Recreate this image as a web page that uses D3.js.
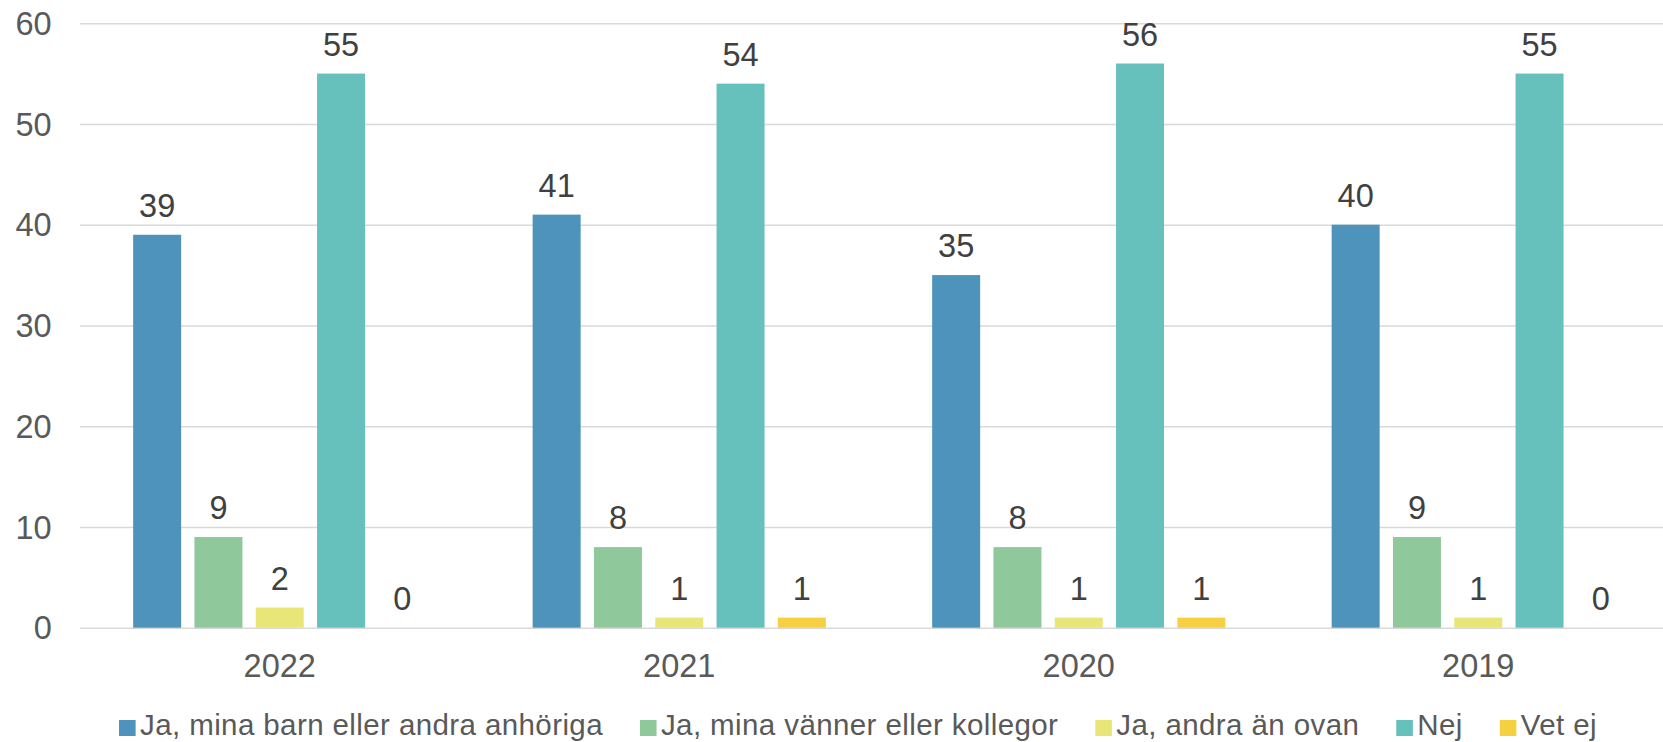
<!DOCTYPE html>
<html>
<head>
<meta charset="utf-8">
<script src="https://cdn.jsdelivr.net/npm/d3@7"></script>
<style>
  body { margin: 0; background: #fff; }
  svg { display: block; font-family: "Liberation Sans", Arial, sans-serif; }
</style>
</head>
<body>
<div id="chart"></div>
<script>
// data
const years = ["2022", "2021", "2020", "2019"];
const seriesNames = [
  "Ja, mina barn eller andra anhöriga",
  "Ja, mina vänner eller kollegor",
  "Ja, andra än ovan",
  "Nej",
  "Vet ej"
];
const barnAnhoriga = [39, 41, 35, 40];
const vannerKollegor = [9, 8, 8, 9];
const andraAnOvan = [2, 1, 1, 1];
const nej = [55, 54, 56, 55];
const vetEj = [0, 1, 1, 0];
const yTicks = [0, 10, 20, 30, 40, 50, 60];

const colors = ["#4e93bc", "#8fc99b", "#e8e676", "#66c1bd", "#f5d142"];

const allSeries = [barnAnhoriga, vannerKollegor, andraAnOvan, nej, vetEj];
const rows = years.map((yr, i) => ({
  year: yr,
  values: seriesNames.map((s, j) => ({ key: s, idx: j, value: allSeries[j][i] }))
}));

const W = 1663, H = 742;
const margin = { top: 23.2, left: 80 };
const plotW = 1598;          // runs a little past the right edge, like the original crop
const plotH = 627.7 - margin.top;
const numSize = 32.5;

const svg = d3.select("#chart")
  .append("svg")
    .attr("width", W)
    .attr("height", H);

const g = svg.append("g")
  .attr("transform", `translate(${margin.left},${margin.top})`);

const x0 = d3.scaleBand()
  .domain(years)
  .range([0, plotW])
  .padding(0);

const x1 = d3.scaleBand()
  .domain(seriesNames)
  .range([0, x0.bandwidth()])
  .paddingInner(0.217)
  .paddingOuter(0.867);

const y = d3.scaleLinear()
  .domain([0, 60])
  .range([plotH, 0]);

// gridlines + y labels
const yAxis = g.append("g")
  .call(d3.axisLeft(y).tickValues(yTicks).tickSize(-plotW).tickPadding(28.3).tickFormat(d3.format("d")));
yAxis.select(".domain").remove();
yAxis.selectAll(".tick line")
  .attr("stroke", "#d9d9d9")
  .attr("stroke-width", 1.6);
yAxis.selectAll(".tick text")
  .attr("fill", "#595959")
  .attr("font-family", "Liberation Sans, Arial, sans-serif")
  .attr("font-size", numSize)
  .attr("dy", 11.1);

// category labels
const xAxis = g.append("g")
  .attr("transform", `translate(0,${plotH})`)
  .call(d3.axisBottom(x0).tickSize(0).tickPadding(0));
xAxis.select(".domain").remove();
xAxis.selectAll(".tick text")
  .attr("fill", "#595959")
  .attr("font-family", "Liberation Sans, Arial, sans-serif")
  .attr("font-size", numSize)
  .attr("y", 49.6)
  .attr("dy", 0);

// bars
const groups = g.selectAll(".grp")
  .data(rows)
  .enter()
  .append("g")
    .attr("class", "grp")
    .attr("transform", d => `translate(${x0(d.year)},0)`);

groups.selectAll("rect")
  .data(d => d.values)
  .enter()
  .append("rect")
    .attr("x", d => x1(d.key))
    .attr("y", d => y(d.value))
    .attr("width", x1.bandwidth())
    .attr("height", d => plotH - y(d.value))
    .attr("fill", d => colors[d.idx]);

groups.selectAll("text.lbl")
  .data(d => d.values)
  .enter()
  .append("text")
    .attr("class", "lbl")
    .attr("x", d => x1(d.key) + x1.bandwidth() / 2)
    .attr("y", d => y(d.value) - 18)
    .attr("text-anchor", "middle")
    .attr("fill", "#404040")
    .attr("font-size", numSize)
    .text(d => d.value);

// legend
const legend = svg.append("g");
const items = legend.selectAll("g")
  .data(seriesNames)
  .enter()
  .append("g");

items.append("rect")
  .attr("y", 720)
  .attr("width", 16.6)
  .attr("height", 16)
  .attr("fill", (d, i) => colors[i]);

items.append("text")
  .attr("x", 21)
  .attr("y", 735)
  .attr("fill", "#595959")
  .attr("font-size", 29.5)
  .attr("letter-spacing", 0.4)
  .text(d => d);

const widths = [];
items.each(function() {
  widths.push(21 + d3.select(this).select("text").node().getComputedTextLength());
});
const gap = 37;
const total = d3.sum(widths) + gap * (widths.length - 1);
let cx = 858 - total / 2;
items.attr("transform", (d, i) => {
  const t = `translate(${cx},0)`;
  cx += widths[i] + gap;
  return t;
});
</script>
</body>
</html>
